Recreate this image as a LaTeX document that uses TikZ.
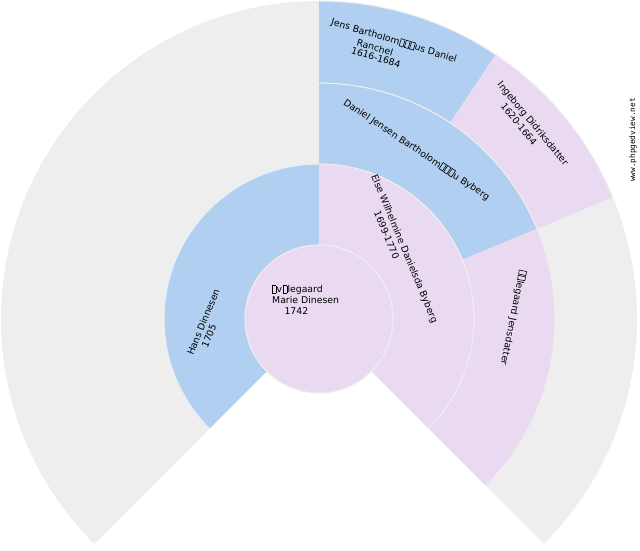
\documentclass[tikz,border=0pt]{standalone}
\usepackage{fontspec}
\setmainfont{DejaVu Sans}
\newfontfamily\wmfont{DejaVu Sans Mono}
\definecolor{bgfan}{HTML}{EEEEEE}
\definecolor{malec}{HTML}{B1CFF0}
\definecolor{femc}{HTML}{E9DAF1}
\newcommand\tofu{\kern0.4pt{\fboxsep=0pt\fboxrule=0.6pt\fbox{\rule{0pt}{6.8pt}\kern3.4pt}}\kern0.4pt}
\newcommand\fansector[5]{%
  \fill[#1] (#2:#4pt) arc[start angle=#2,end angle=#3,radius=#4pt] -- (#3:#5pt) arc[start angle=#3,end angle=#2,radius=#5pt] -- cycle;
  \draw[ringedge] (#2:#5pt) arc[start angle=#2,end angle=#3,radius=#5pt];}
\tikzset{
  ringedge/.style={draw=bgfan,line width=1.1pt},
  nm/.style={inner sep=0pt,text=black,font=\fontsize{9.33pt}{10.7pt}\selectfont},
  wm/.style={inner sep=0pt,text=black,font=\wmfont\fontsize{7.7pt}{8pt}\selectfont}
}
\begin{document}
\begin{tikzpicture}[x=1pt,y=1pt]
\useasboundingbox (0,0) rectangle (640,550);
\begin{scope}[shift={(319,231)}]
  % background fan
  \fill[bgfan] (0,0) -- (-45:318pt) arc[start angle=-45,end angle=225,radius=318pt] -- cycle;
  % generation 3
  \fansector{malec}{56.25}{90}{236}{318}
  \fansector{femc}{22.5}{56.25}{236}{318}
  % generation 2
  \fansector{malec}{22.5}{90}{155}{236}
  \fansector{femc}{-45}{22.5}{155}{236}
  % generation 1
  \fansector{malec}{90}{225}{74}{155}
  \fansector{femc}{-45}{90}{74}{155}
  % root
  \fill[femc] (0,0) circle[radius=74pt];
  \draw[ringedge] (0,0) circle[radius=74pt];
\end{scope}
% root person
\node[nm,anchor=base west] (root1) at (271,257.3) {\tofu v\tofu legaard};
\node[nm,anchor=base west] (root2) at (272,246.3) {Marie Dinesen};
\node[nm,anchor=base west] (root3) at (284.3,236) {1742};
% father
\node[nm,rotate=67.5] (fa1) at (203.3,228) {Hans Dinnesen};
\node[nm,rotate=67.5] (fa2) at (209,214) {1705};
% mother
\node[nm,rotate=-67.5] (mo1) at (404,301) {Else Wilhelmine Danielsda Byberg};
\node[nm,rotate=-67.5] (mo2) at (386.7,315) {1699-1770};
% mother's father
\node[nm,rotate=-33.75] (mf1) at (416.5,400) {Daniel Jensen Bartholom\tofu\tofu\tofu u Byberg};
% mother's mother
\node[nm,rotate=-101.25] (mm1) at (513,232.5) {\tofu\tofu legaard Jensdatter};
% mother's father's father
\node[nm,rotate=-16.875] (mff1) at (394,509) {Jens Bartholom\tofu\tofu\tofu us Daniel};
\node[nm,rotate=-16.875] (mff2) at (375,502.5) {Ranchel};
\node[nm,rotate=-16.875] (mff3) at (376,492.5) {1616-1684};
% mother's father's mother
\node[nm,rotate=-50.625] (mfm1) at (532.5,426) {Ingeborg Didriksdatter};
\node[nm,rotate=-50.625] (mfm2) at (519,426) {1620-1664};
% watermark
\node[wm,rotate=90] (wmark) at (633,410) {www.phpgedview.net};
\end{tikzpicture}
\end{document}
